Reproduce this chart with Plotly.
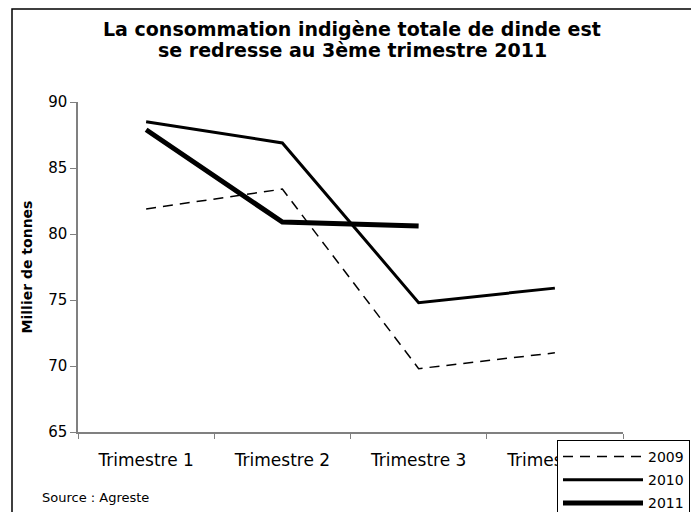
import plotly.graph_objects as go

categories = ["Trimestre 1", "Trimestre 2", "Trimestre 3", "Trimestre 4"]
y2009 = [81.9, 83.4, 69.8, 71.0]
y2010 = [88.5, 86.9, 74.8, 75.9]
y2011 = [87.9, 80.9, 80.6]

FONT = "DejaVu Sans"
OFF = 8  # page body margin

fig = go.Figure()
fig.add_trace(go.Scatter(x=categories, y=y2009, name="2009", mode="lines",
                         line=dict(color="black", width=1.5, dash="10px,7px"),
                         legendgroup="a"))
fig.add_trace(go.Scatter(x=categories, y=y2010, name="2010", mode="lines",
                         line=dict(color="black", width=3),
                         legendgroup="b"))
fig.add_trace(go.Scatter(x=categories[:3], y=y2011, name="2011", mode="lines",
                         line=dict(color="black", width=5),
                         legendgroup="c"))

W, H = 699 - OFF, 512 - OFF
L = 78 - OFF
T = 102 - OFF
R = W - (623 - OFF)
B = H - (432 - OFF)
pw = W - L - R
ph = H - T - B

def px_x(p):
    return (p - OFF - L) / pw

def px_y(p):
    return (H - B - (p - OFF)) / ph

fig.update_layout(
    width=W, height=H,
    margin=dict(l=L, r=R, t=T, b=B, autoexpand=False),
    paper_bgcolor="white", plot_bgcolor="white",
    font=dict(family=FONT, color="black"),
    xaxis=dict(type="category", tickson="boundaries", ticks="outside", ticklen=5,
               tickcolor="#808080", showline=True, linecolor="#808080", linewidth=1.5,
               showgrid=False, zeroline=False, tickfont=dict(size=17, family=FONT),
               ticklabelstandoff=12, range=[-0.5, 3.5], automargin=False),
    yaxis=dict(range=[65, 90], dtick=5, ticks="outside", ticklen=6,
               tickcolor="#808080", showline=True, linecolor="#808080", linewidth=1.5,
               showgrid=False, zeroline=False, tickfont=dict(size=15, family=FONT),
               automargin=False,
               title=dict(text="<b>Millier de tonnes</b>", font=dict(size=14, family=FONT), standoff=12)),
    legend=dict(x=px_x(557), y=px_y(440), xanchor="left", yanchor="top",
                bgcolor="white", bordercolor="black", borderwidth=1,
                font=dict(size=14, family=FONT), tracegroupgap=2, itemwidth=80),
    showlegend=True,
)

title_lines = ["La consommation indigène totale de dinde est",
               "se redresse au 3ème trimestre 2011"]
for line, yc in zip(title_lines, [29, 50]):
    fig.add_annotation(text="<b>" + line + "</b>", xref="paper", yref="paper",
                       x=px_x(352), y=px_y(yc), xanchor="center", yanchor="middle",
                       showarrow=False, font=dict(size=19, family=FONT))

fig.add_annotation(text="Source : Agreste", xref="paper", yref="paper",
                   x=px_x(40), y=px_y(497), xanchor="left", yanchor="middle",
                   showarrow=False, font=dict(size=13, family=FONT))

fig.add_shape(type="rect", xref="paper", yref="paper",
              x0=px_x(12), x1=px_x(697), y0=px_y(540), y1=px_y(9),
              line=dict(color="black", width=1.5), fillcolor="rgba(0,0,0,0)", layer="below")

fig.write_html("out.html")
